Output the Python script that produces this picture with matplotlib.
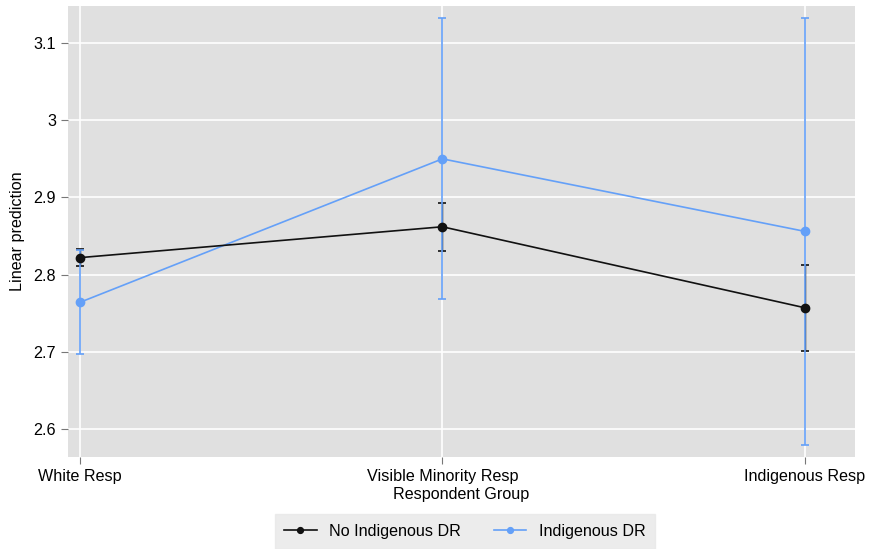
import matplotlib
matplotlib.use("Agg")
import matplotlib.pyplot as plt

plt.rcParams["font.family"] = ["Liberation Sans", "DejaVu Sans"]

groups = ["White Resp", "Visible Minority Resp", "Indigenous Resp"]

no_dr_mean = [2.822, 2.862, 2.757]
no_dr_lo = [2.811, 2.831, 2.701]
no_dr_hi = [2.833, 2.893, 2.813]

dr_mean = [2.764, 2.950, 2.856]
dr_lo = [2.697, 2.768, 2.579]
dr_hi = [2.832, 3.133, 3.132]

y_ticks = [2.6, 2.7, 2.8, 2.9, 3.0, 3.1]
y_tick_labels = ["2.6", "2.7", "2.8", "2.9", "3", "3.1"]

BLACK = "#111111"
BLUE = "#64a0f8"

fig = plt.figure(figsize=(8.69, 5.49), dpi=100)
ax = fig.add_axes([0.078, 0.168, 0.906, 0.821])
ax.set_facecolor("#e0e0e0")

xs = list(range(len(groups)))

# confidence intervals
ax.errorbar(xs, no_dr_mean,
            yerr=[[m - l for m, l in zip(no_dr_mean, no_dr_lo)],
                  [h - m for m, h in zip(no_dr_mean, no_dr_hi)]],
            fmt="none", ecolor=BLACK, elinewidth=1.0, capsize=3, capthick=1.2, zorder=3)
ax.errorbar(xs, dr_mean,
            yerr=[[m - l for m, l in zip(dr_mean, dr_lo)],
                  [h - m for m, h in zip(dr_mean, dr_hi)]],
            fmt="none", ecolor=BLUE, elinewidth=1.2, capsize=3, capthick=1.2, zorder=4)

# point estimates
ax.plot(xs, dr_mean, color=BLUE, marker="o", markersize=6, linewidth=1.2,
        label="Indigenous DR", zorder=5)
ax.plot(xs, no_dr_mean, color=BLACK, marker="o", markersize=6, linewidth=1.2,
        label="No Indigenous DR", zorder=6)

ax.set_xlim(-0.033, 2.138)
ax.set_ylim(2.564, 3.148)
ax.set_xticks(xs, labels=groups)
ax.set_yticks(y_ticks, labels=y_tick_labels)
ax.grid(True, color="white", linewidth=1.2)
ax.set_axisbelow(True)
for s in ax.spines.values():
    s.set_visible(False)
ax.tick_params(axis="both", labelsize=11.6, color="#777777", length=5, width=0.8)
ax.tick_params(axis="x", pad=4)

ax.set_xlabel("Respondent Group", fontsize=11.6, labelpad=2)
ax.set_ylabel("Linear prediction", fontsize=11.6, labelpad=6)

handles, labels = ax.get_legend_handles_labels()
leg = fig.legend(handles[::-1], labels[::-1], loc="lower center",
                 bbox_to_anchor=(0.535, -0.014), ncol=2, fontsize=11.6,
                 frameon=True, fancybox=False, handlelength=2.0,
                 columnspacing=2.0, borderpad=0.6, markerscale=0.7)
leg.get_frame().set_facecolor("#e8e8e8")
leg.get_frame().set_edgecolor("#e8e8e8")

fig.savefig("out.png", dpi=100, facecolor="white")
